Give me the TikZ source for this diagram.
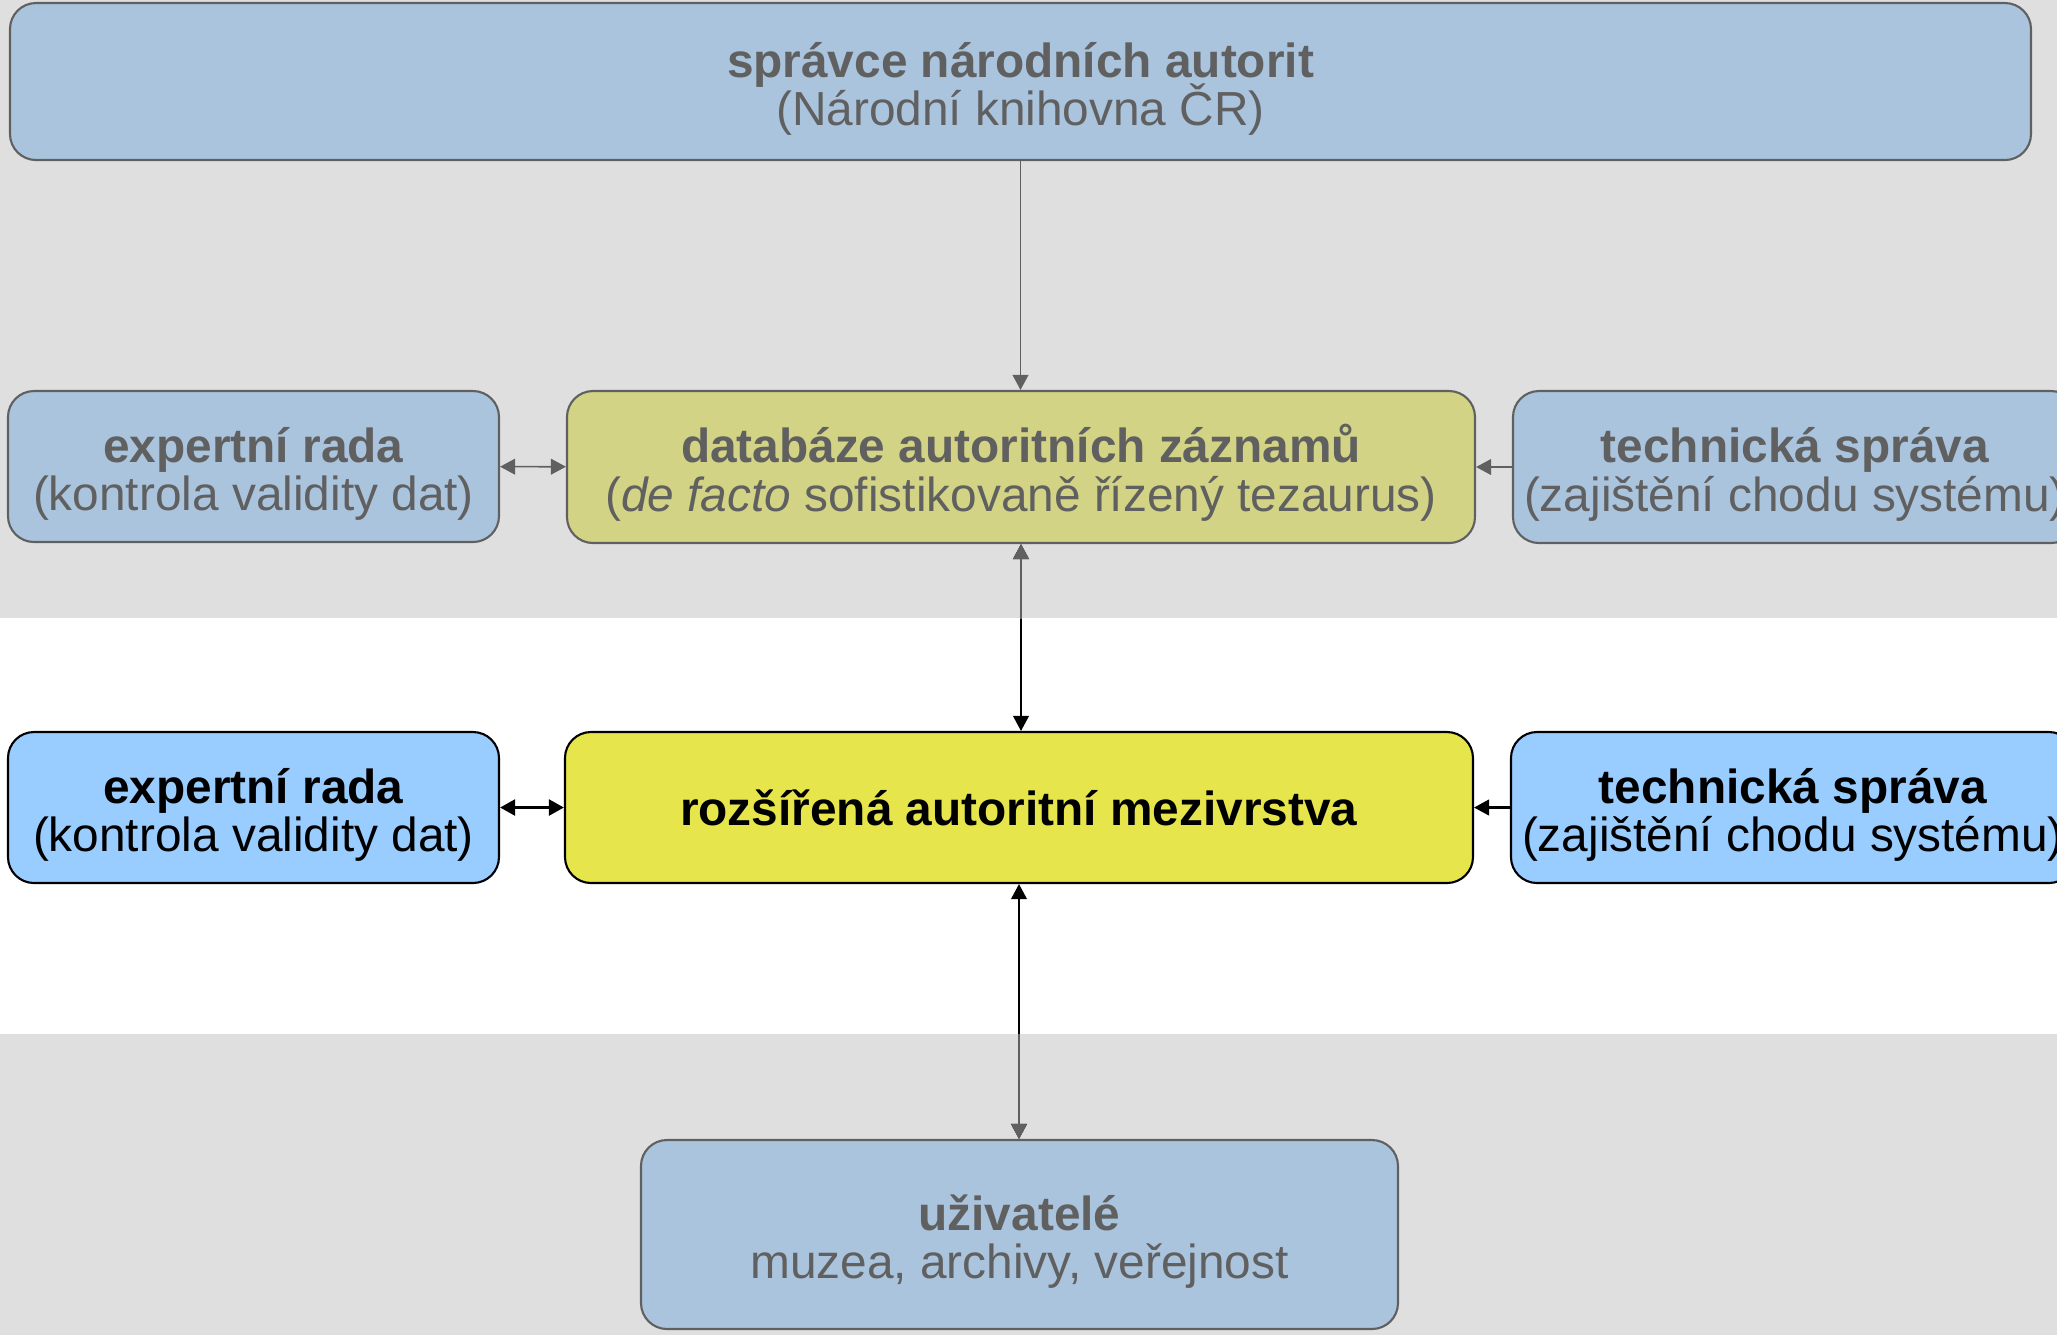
\documentclass[tikz,border=0pt]{standalone}
\usepackage{fontspec}
\setmainfont{Liberation Sans}
\usetikzlibrary{arrows.meta}
\definecolor{bandgray}{HTML}{DFDFDF}
\definecolor{paleblue}{HTML}{AAC4DE}
\definecolor{paleolive}{HTML}{D3D386}
\definecolor{brightblue}{HTML}{99CCFF}
\definecolor{brightyellow}{HTML}{E6E64C}
\definecolor{fadegray}{HTML}{606060}
\newcommand{\headline}[1]{\rule{0pt}{1.05em}\textbf{#1}}
\newcommand{\boxfont}{\fontsize{13.6}{13.8}\selectfont\lineskiplimit=-6pt\relax}
\tikzset{
  box/.style={draw, rounded corners=0.26cm, line width=0.6pt, align=center,
    inner sep=0pt, font=\boxfont},
  faded/.style={box, draw=fadegray, text=fadegray, fill=paleblue},
  active/.style={box, draw=black, text=black, fill=brightblue},
  oneway/.style={line width=0.45pt, -{Triangle[length=4.3pt,width=4.5pt]}},
  twoway/.style={line width=0.45pt,
    {Triangle[length=4.3pt,width=4.5pt]}-{Triangle[length=4.3pt,width=4.5pt]}},
}
\begin{document}
\begin{tikzpicture}
      \useasboundingbox (0,0) rectangle (20.57,-13.35);
      \fill[bandgray] (0,0) rectangle (20.57,-6.18);
      \fill[bandgray] (0,-10.34) rectangle (20.57,-13.35);
      % \draw[help lines,step=.5] (0,0) grid (20.5,-13.5);
      \coordinate (c0) at (10.205,-0.815);
      \coordinate (c1) at (2.535,-4.665);
      \coordinate (c2) at (10.21,-4.67);
      \coordinate (c3) at (17.95,-4.67);
      \coordinate (m1) at (2.535,-8.075);
      \coordinate (m2) at (10.19,-8.075);
      \coordinate (m3) at (17.93,-8.075);
      \coordinate (u0) at (10.195,-12.345);

      \node (spravce) [faded, minimum width=20.21cm, minimum height=1.57cm] at (c0)
      {\headline{správce národních autorit}\\(Národní knihovna ČR)};
      \node (rada) [faded, minimum width=4.91cm, minimum height=1.51cm] at (c1)
      {\headline{expertní rada}\\(kontrola validity dat)};
      \node (databaze) [faded, fill=paleolive, minimum width=9.08cm, minimum height=1.52cm] at (c2)
      {\headline{databáze autoritních záznamů}\\(\textit{de facto} sofistikovaně řízený tezaurus)};
      \node (sprava) [faded, minimum width=5.64cm, minimum height=1.52cm] at (c3)
      {\headline{technická správa}\\(zajištění chodu systému)};

      \node (rada2) [active, minimum width=4.91cm, minimum height=1.51cm] at (m1)
      {\headline{expertní rada}\\(kontrola validity dat)};
      \node (vrstva) [active, fill=brightyellow, minimum width=9.08cm, minimum height=1.51cm] at (m2)
      {\textbf{rozšířená autoritní mezivrstva}};
      \node (sprava2) [active, minimum width=5.64cm, minimum height=1.51cm] at (m3)
      {\headline{technická správa}\\(zajištění chodu systému)};

      \node (uzivatele) [faded, minimum width=7.57cm, minimum height=1.89cm] at (u0)
      {\headline{uživatelé}\\muzea, archivy, veřejnost};

      \draw[oneway, fadegray] (spravce.south) -- (spravce.south |- databaze.north);
      \draw[twoway, fadegray] (rada) -- (databaze);
      \draw[oneway, fadegray] (sprava) -- (databaze);
      \draw[twoway, line width=0.9pt] (rada2) -- (vrstva);
      \draw[oneway, line width=0.6pt] (sprava2) -- (vrstva);

      \draw[twoway] (databaze.south) -- (databaze.south |- vrstva.north);
      \draw[twoway] (vrstva.south) -- (vrstva.south |- uzivatele.north);
      \begin{scope}
        \clip (0,0) rectangle (20.57,-6.18);
        \draw[twoway, fadegray] (databaze.south) -- (databaze.south |- vrstva.north);
      \end{scope}
      \begin{scope}
        \clip (0,-10.34) rectangle (20.57,-13.35);
        \draw[twoway, fadegray] (vrstva.south) -- (vrstva.south |- uzivatele.north);
      \end{scope}
    \end{tikzpicture}
\end{document}
